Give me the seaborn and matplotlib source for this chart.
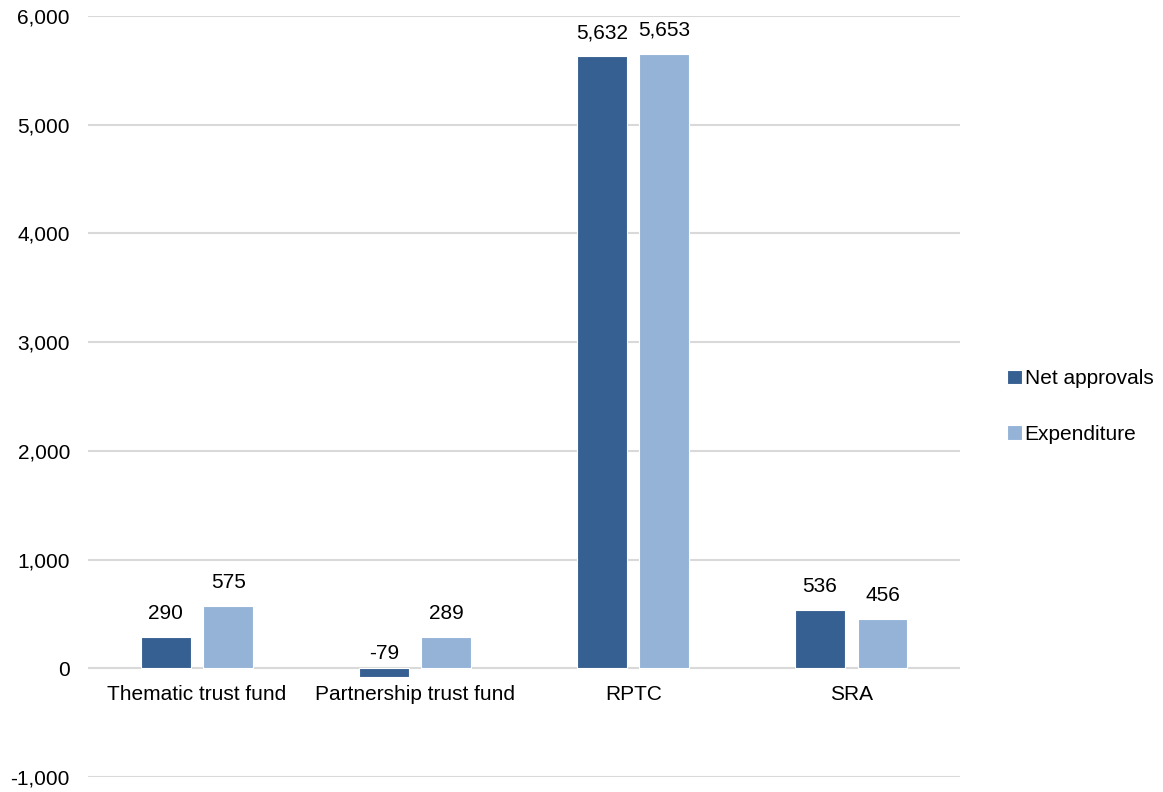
import seaborn as sns
import matplotlib.pyplot as plt
import pandas as pd

# values
categories = ['Thematic trust fund', 'Partnership trust fund', 'RPTC', 'SRA']
net_approvals = [290, -79, 5632, 536]
expenditure = [575, 289, 5653, 456]
series = ['Net approvals', 'Expenditure']
colors = ['#376092', '#95B3D7']

df = pd.DataFrame({
    'category': categories * 2,
    'series': [series[0]] * 4 + [series[1]] * 4,
    'value': net_approvals + expenditure,
})

sns.set_theme(style='white')
plt.rcParams['font.family'] = ['Liberation Sans', 'DejaVu Sans']

fig = plt.figure(figsize=(11.63, 7.92), dpi=100)
ax = fig.add_axes([0.0757, 0.0189, 0.75, 0.9609])

sns.barplot(data=df, x='category', y='value', hue='series', order=categories,
            hue_order=series, palette=colors, saturation=1, width=0.573, gap=0.2,
            edgecolor='white', linewidth=0.8, ax=ax, zorder=3)

ax.set_ylim(-1000, 6000)
ax.set_xlim(-0.5, 3.5)
ax.set_yticks(range(-1000, 6001, 1000))
ax.set_yticklabels([f'{v:,}' for v in range(-1000, 6001, 1000)])
ax.yaxis.grid(True, color='#D9D9D9', linewidth=1.5, zorder=0)
ax.set_axisbelow(True)
for s in ax.spines.values():
    s.set_visible(False)
ax.spines['bottom'].set_position(('data', 0))
ax.tick_params(axis='y', length=0, pad=13, labelsize=15, colors='black')
ax.tick_params(axis='x', length=0, pad=12, labelsize=15, colors='black')
ax.set_xlabel('')
ax.set_ylabel('')

# data labels
for cont in ax.containers:
    for bar in cont:
        h = bar.get_height()
        x = bar.get_x() + bar.get_width() / 2
        off = 10 if h >= 0 else 4
        ax.annotate(f'{h:,.0f}', xy=(x, max(h, 0)), xytext=(0, off),
                    textcoords='offset points', ha='center', va='bottom',
                    fontsize=15, color='black')

leg = ax.legend(loc='center left', bbox_to_anchor=(1.032, 0.487), frameon=False,
                fontsize=15, handlelength=0.7, handleheight=0.7, handletextpad=0.15,
                labelspacing=1.75)
for t in leg.get_texts():
    t.set_color('black')

fig.savefig('out.png', dpi=100)
